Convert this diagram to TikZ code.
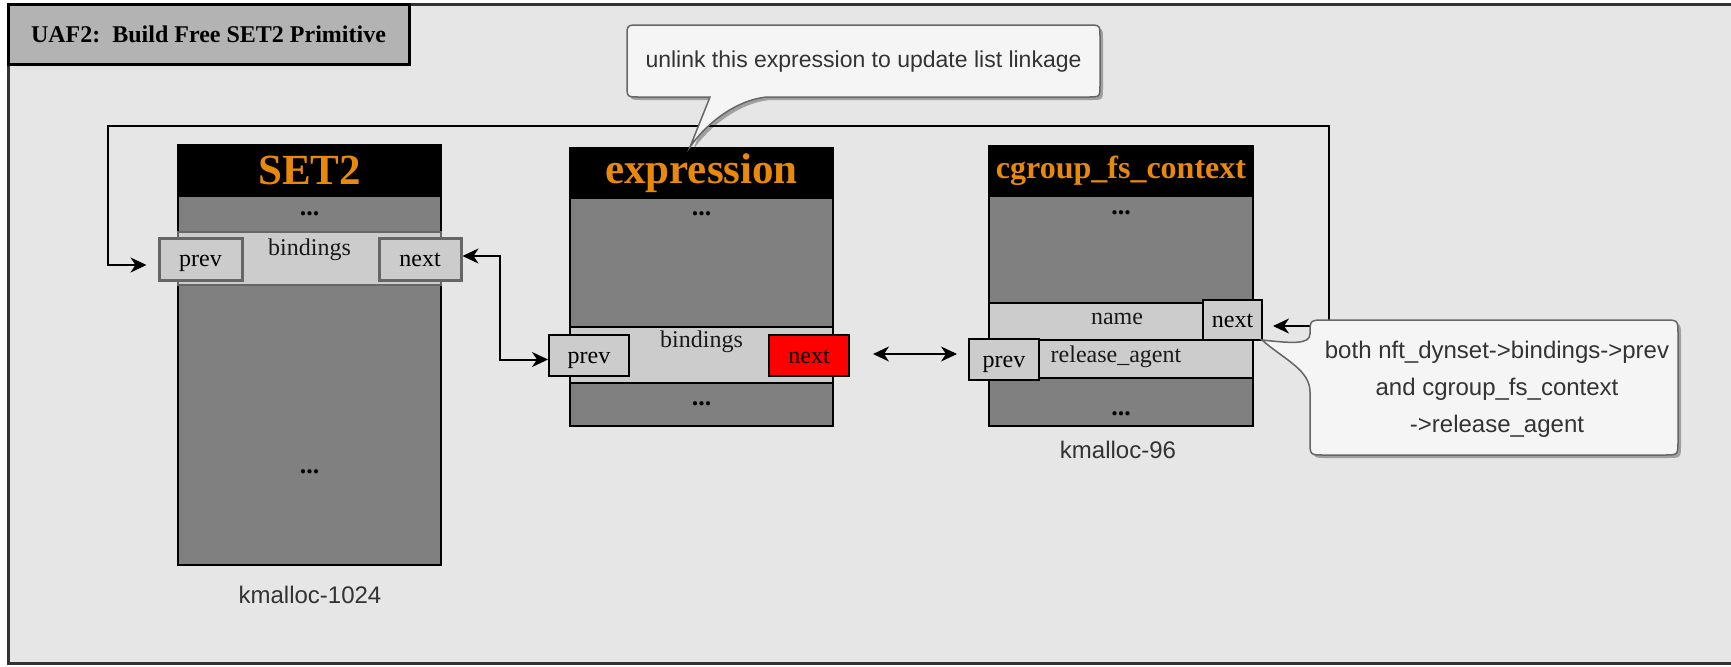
\documentclass[tikz,border=0pt]{standalone}
\usepackage{fontspec}
\setmainfont{Liberation Serif}
\newfontfamily\arialf{Liberation Sans}
\usetikzlibrary{arrows.meta,shadows}
\definecolor{canvas}{HTML}{E6E6E6}
\definecolor{titlegray}{HTML}{B3B3B3}
\definecolor{bodygray}{HTML}{808080}
\definecolor{fieldgray}{HTML}{CCCCCC}
\definecolor{edgegray}{HTML}{666666}
\definecolor{hdrorange}{HTML}{E8890C}
\definecolor{notefill}{HTML}{F5F5F5}
\definecolor{notetext}{HTML}{333333}

\begin{document}
\begin{tikzpicture}[x=0.5pt, y=-0.5pt,
  wh/.style 2 args={minimum width=#1*0.5pt, minimum height=#2*0.5pt},
  cell/.style={draw=black, line width=1pt, inner sep=0pt},
  hdr/.style={cell, fill=black, text=hdrorange, font=\bfseries\fontsize{21.5}{24}\selectfont},
  bodyrect/.style={cell, fill=bodygray},
  fieldrect/.style={cell, fill=fieldgray},
  ptrbox/.style={cell, fill=fieldgray, text height=9.7pt, text depth=2.2pt, font=\fontsize{12}{14}\selectfont},
  dots/.style={inner sep=0pt, font=\bfseries\fontsize{13}{14}\selectfont},
  fname/.style={inner sep=0pt, text=black!90, font=\fontsize{12}{14}\selectfont},
  slab/.style={inner sep=0pt, text=notetext, font=\arialf\fontsize{12}{14}\selectfont},
  ptrlink/.style={line width=1pt, {Stealth[length=8pt,width=7.5pt,inset=2.5pt]}-{Stealth[length=8pt,width=7.5pt,inset=2.5pt]}},
  note/.style={draw=edgegray, line width=0.75pt, fill=notefill,
    drop shadow={shadow xshift=1.5pt, shadow yshift=-1.5pt, opacity=0.3, fill=black}}]
  \useasboundingbox (0,0) rectangle (1731,666);
  % frame and title
  \draw[line width=1.5pt, draw=black!80, fill=canvas] (8,4) rectangle (1750,663);
  \node[cell, line width=1.5pt, fill=titlegray, wh={401}{60}, font=\bfseries\fontsize{12}{14}\selectfont] (title) at (208.5,34) {UAF2:~~Build Free SET2 Primitive};

  % SET2 in kmalloc-1024
  \node[bodyrect, wh={263}{369}] (sbody) at (309.5,380.5) {};
  \node[hdr, wh={263}{51}] (shead) at (309.5,170.5) {SET2};
  \node[dots] (sdotsa) at (309.5,214) {...};
  \node[fieldrect, draw=edgegray, wh={263}{53}] (sfield) at (309.5,258.5) {};
  \node[fname] (sbind) at (309.5,250) {bindings};
  \node[ptrbox, draw=edgegray, line width=1.5pt, wh={83}{42}] (sprev) at (200.5,259) {prev};
  \node[ptrbox, draw=edgegray, line width=1.5pt, wh={82}{42}] (snext) at (420,259) {next};
  \node[dots] (sdotsb) at (309.5,472) {...};
  \node[slab] (skm) at (310,595) {kmalloc-1024};

  % expression
  \node[bodyrect, wh={263}{228}] (ebody) at (701.5,312) {};
  \node[hdr, wh={263}{50}] (ehead) at (701.5,173) {expression};
  \node[dots] (edotsa) at (701.5,214) {...};
  \node[fieldrect, wh={263}{56}] (efield) at (701.5,355) {};
  \node[fname] (ebind) at (701.5,342) {bindings};
  \node[ptrbox, wh={80}{41}] (eprev) at (589,355.5) {prev};
  \node[ptrbox, fill=red, wh={80}{41}] (enext) at (809,355.5) {next};
  \node[dots] (edotsb) at (701.5,404) {...};

  % cgroup_fs_context in kmalloc-96
  \node[bodyrect, wh={264}{230}] (cbody) at (1121,311) {};
  \node[hdr, wh={264}{50}, font=\bfseries\fontsize{16}{18}\selectfont] (chead) at (1121,171) {cgroup\_fs\_context};
  \node[dots] (cdotsa) at (1121,213) {...};
  \node[fieldrect, wh={264}{37}] (cname) at (1121,321.5) {};
  \node[fieldrect, wh={264}{38}] (crel) at (1121,359) {};
  \node[fname] (cnamet) at (1117,319) {name};
  \node[fname] (crelt) at (1116,357) {release\_agent};
  \node[ptrbox, wh={59}{40}] (cnext) at (1232.5,320) {next};
  \node[ptrbox, wh={70}{41}] (cprev) at (1004,359.5) {prev};
  \node[dots] (cdotsb) at (1121,414) {...};
  \node[slab] (ckm) at (1118,450) {kmalloc-96};

  % list links
  \coordinate (loopne) at (1329,126);
  \coordinate (loopnw) at (108,126);
  \draw[ptrlink] ([yshift=1.5pt]snext.east) -| ([xshift=-24pt, yshift=-2pt]eprev.west) -- ([yshift=-2pt]eprev.west);
  \draw[ptrlink, shorten <=11.5pt, shorten >=5.5pt] ([yshift=0.75pt]enext.east) -- ([yshift=0.75pt]enext.east -| cprev.west);
  \draw[ptrlink] ([xshift=5pt, yshift=-3pt]cnext.east) -| (loopne) -- (loopnw) |- ([xshift=-5.5pt, yshift=-3pt]sprev.west);

  % callouts
  \draw[note] (639,25) -- (1088,25) .. controls (1100,25) .. (1100,37) -- (1100,85)
    .. controls (1100,97) .. (1088,97) -- (767,97) .. controls (735,100) and (705,125) .. (690,147)
    -- (710,97) -- (639,97) .. controls (627,97) .. (627,85) -- (627,37) .. controls (627,25) .. (639,25) -- cycle;
  \node[slab, font=\arialf\fontsize{11.5}{14}\selectfont] (unlinknote) at (863.5,62) {unlink this expression to update list linkage};
  \draw[note] (1326,320) -- (1664,320) .. controls (1678,320) .. (1678,334) -- (1678,441)
    .. controls (1678,455) .. (1664,455) -- (1324,455) .. controls (1310,455) .. (1310,441) -- (1310,392)
    .. controls (1310,370) and (1285,360) .. (1262,340) .. controls (1290,343) and (1310,345) .. (1310,334)
    .. controls (1310,320) .. (1326,320) -- cycle;
  \node[slab, align=center, font=\arialf\fontsize{12}{18.5}\selectfont] (bothnote) at (1497,389) {both nft\_dynset->bindings->prev\\and cgroup\_fs\_context\\->release\_agent};
\end{tikzpicture}
\end{document}
